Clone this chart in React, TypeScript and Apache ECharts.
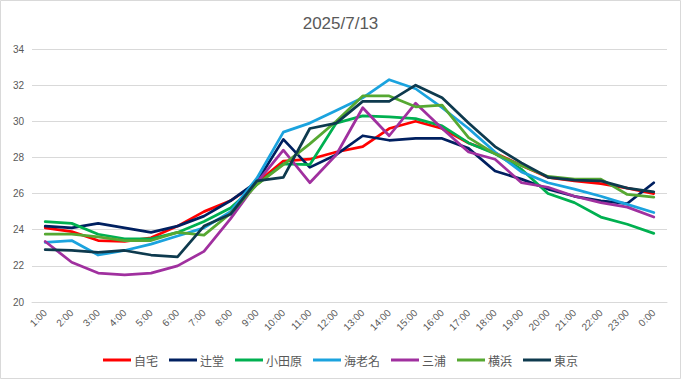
import React, { useEffect, useRef } from "react";
import * as echarts from "echarts";

const title = "2025/7/13";
const hours = [
  "1:00", "2:00", "3:00", "4:00", "5:00", "6:00", "7:00", "8:00", "9:00", "10:00", "11:00", "12:00",
  "13:00", "14:00", "15:00", "16:00", "17:00", "18:00", "19:00", "20:00", "21:00", "22:00", "23:00", "0:00",
];
const seriesNames = ["自宅", "辻堂", "小田原", "海老名", "三浦", "横浜", "東京"];
const seriesColors = ["#FF0000", "#002060", "#00B050", "#1BA3DE", "#A0309F", "#56A832", "#0E3A4E"];

const jitaku = [24.1, 23.9, 23.4, 23.35, 23.55, 24.2, 25.0, 25.6, 26.6, 27.8, 27.9, 28.3, 28.6, 29.6, 30.0, 29.6, 28.8, 28.25, 27.55, 26.9, 26.7, 26.55, 26.3, 26.0];
const tsujido = [24.2, 24.1, 24.35, 24.1, 23.85, 24.2, 24.75, 25.6, 26.65, 29.0, 27.45, 28.15, 29.2, 28.95, 29.05, 29.05, 28.5, 27.25, 26.8, 26.25, 25.85, 25.6, 25.45, 26.6];
const odawara = [24.45, 24.35, 23.75, 23.5, 23.5, 23.85, 24.45, 25.2, 26.5, 27.65, 27.6, 29.9, 30.3, 30.25, 30.15, 29.75, 28.8, 28.2, 27.35, 26.0, 25.5, 24.7, 24.3, 23.8];
const ebina = [23.3, 23.4, 22.6, 22.85, 23.2, 23.65, 24.1, 25.0, 26.85, 29.4, 29.9, 30.6, 31.3, 32.3, 31.8, 30.75, 29.6, 28.3, 27.2, 26.6, 26.25, 25.85, 25.4, 24.95];
const miura = [23.35, 22.2, 21.6, 21.5, 21.6, 22.0, 22.8, 24.6, 26.6, 28.4, 26.6, 28.15, 30.75, 29.2, 31.0, 29.6, 28.3, 27.9, 26.6, 26.35, 25.85, 25.5, 25.25, 24.7];
const yokohama = [23.75, 23.75, 23.6, 23.4, 23.4, 23.85, 23.7, 24.9, 26.5, 27.6, 28.75, 30.0, 31.4, 31.4, 30.8, 30.9, 29.1, 28.2, 27.55, 26.95, 26.8, 26.8, 25.95, 25.8];
const tokyo = [22.9, 22.85, 22.75, 22.85, 22.6, 22.5, 24.2, 24.85, 26.7, 26.9, 29.6, 29.9, 31.1, 31.1, 32.0, 31.3, 29.9, 28.6, 27.7, 26.9, 26.75, 26.7, 26.3, 26.1];

const allValues = [jitaku, tsujido, odawara, ebina, miura, yokohama, tokyo];

const yMin = 20;
const yMax = 34;
const yInterval = 2;

export default function App() {
  const ref = useRef<HTMLDivElement>(null);

  useEffect(() => {
    if (!ref.current) return;
    const chart = echarts.init(ref.current, undefined, { renderer: "svg" });
    const textColor = "#595959";
    chart.setOption({
      animation: false,
      backgroundColor: "#ffffff",
      title: {
        text: title,
        left: "center",
        top: 10,
        textStyle: {
          fontFamily: "Liberation Sans, Arial, sans-serif",
          fontSize: 17,
          fontWeight: "normal",
          color: textColor,
        },
      },
      graphic: [
        {
          type: "rect",
          shape: { x: 0.5, y: 0.5, width: 680, height: 378 },
          style: { fill: "none", stroke: "#d9d9d9", lineWidth: 1 },
          silent: true,
        },
      ],
      grid: {
        left: 32,
        right: 14,
        top: 49,
        bottom: 77,
        containLabel: false,
      },
      legend: {
        bottom: 8,
        left: "center",
        icon: "rect",
        itemWidth: 28,
        itemHeight: 3,
        itemGap: 11,
        textStyle: {
          fontFamily: "Noto Sans CJK JP, sans-serif",
          fontSize: 12,
          color: textColor,
          padding: [0, 0, 0, -2],
        },
        data: seriesNames,
      },
      xAxis: {
        type: "category",
        data: hours,
        boundaryGap: true,
        axisLine: { show: true, lineStyle: { color: "#d9d9d9", width: 1 } },
        axisTick: { show: false },
        axisLabel: {
          rotate: 45,
          interval: 0,
          color: textColor,
          fontSize: 10,
          fontFamily: "Liberation Sans, Arial, sans-serif",
          margin: 9,
        },
        splitLine: { show: false },
      },
      yAxis: {
        type: "value",
        min: yMin,
        max: yMax,
        interval: yInterval,
        axisLine: { show: false },
        axisTick: { show: false },
        axisLabel: {
          color: textColor,
          fontSize: 10,
          fontFamily: "Liberation Sans, Arial, sans-serif",
          margin: 8,
        },
        splitLine: { show: true, lineStyle: { color: "#d9d9d9", width: 1 } },
      },
      series: seriesNames.map((name, i) => ({
        name,
        type: "line",
        data: allValues[i],
        showSymbol: false,
        symbol: "none",
        smooth: false,
        lineStyle: { color: seriesColors[i], width: 2.75, cap: "round", join: "round" },
        itemStyle: { color: seriesColors[i] },
      })),
    });
    return () => chart.dispose();
  }, []);

  return (
    <div
      ref={ref}
      style={{ position: "fixed", left: 0, top: 0, width: 681, height: 379 }}
    />
  );
}
